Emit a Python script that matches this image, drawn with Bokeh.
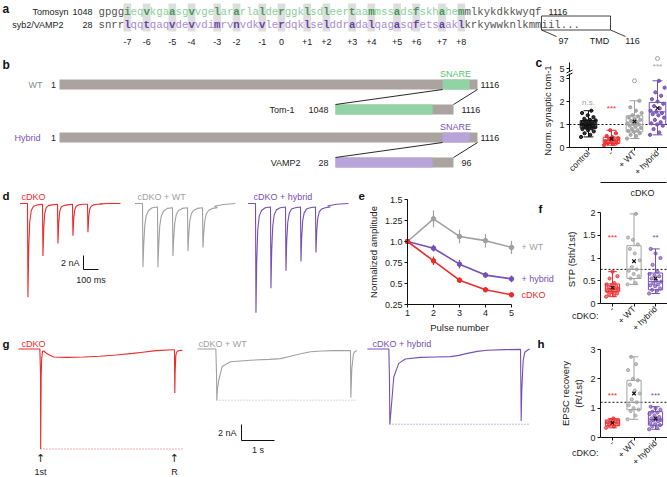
import math
from bokeh.plotting import figure
from bokeh.layouts import column, row
from bokeh.models import Range1d, FixedTicker, LinearAxis, ColumnDataSource
from bokeh.embed import file_html
from bokeh.resources import INLINE
from bokeh.core.properties import value

SANS = "Liberation Sans"
MONO = "Liberation Mono"

# ---------------- data: panel a (sequences) ----------------
TOMO_SEQ = "gpggieqvkgaasgvvgelararlalderggklsdleertaammssadsfskhahemmlkykdkkwyqf"
VAMP_SEQ = "snrrlqqtqaqvdevvdimrvnvdkvlerdqklselddradalqagasqfetsaaklkrkywwknlkmm"
VAMP_TMD_SEQ = "iil..."
TOMO_START, TOMO_END = 1048, 1116
VAMP_START = 28
TMD_START, TMD_END = 97, 116
SNARE_IDX = (4, 56)
LAYER_IDX = [4, 7, 11, 14, 18, 21, 25, 28, 32, 35, 39, 42, 46, 49, 53, 56]
LAYER_LABELS = ["-7", "-6", "-5", "-4", "-3", "-2", "-1", "0",
                "+1", "+2", "+3", "+4", "+5", "+6", "+7", "+8"]

# ---------------- data: panel b (constructs, residue numbers) ----------------
FULL_LEN = 1116
WT_SNARE = (1023, 1095)
TOM1_SPAN = (1048, 1116)
TOM1_SNARE_END = 1104
VAMP2_SPAN = (28, 96)
VAMP2_SNARE_END = 84

# ---------------- data: panel c ----------------
C_CATS = ["control", "-", "+ WT", "+ hybrid"]
C_Q1 = [0.85, 0.18, 0.68, 1.00]
C_MED = [1.00, 0.30, 1.00, 1.55]
C_Q3 = [1.17, 0.45, 1.38, 1.96]
C_LO = [0.46, 0.10, 0.39, 0.55]
C_HI = [1.60, 0.75, 2.03, 2.90]
C_MEAN = [1.00, 0.38, 1.13, 1.71]
C_PTS = [
    [0.46, 0.55, 0.62, 0.70, 0.75, 0.80, 0.83, 0.86, 0.88, 0.90, 0.92, 0.95, 0.97, 1.00,
     1.00, 1.02, 1.05, 1.07, 1.10, 1.12, 1.15, 1.18, 1.20, 1.25, 1.32, 1.40, 1.50, 1.60],
    [0.10, 0.15, 0.18, 0.20, 0.25, 0.28, 0.32, 0.35, 0.40, 0.45, 0.50, 0.62, 0.75],
    [0.39, 0.50, 0.55, 0.62, 0.68, 0.72, 0.75, 0.80, 0.85, 0.90, 0.95, 1.00, 1.02, 1.05,
     1.10, 1.15, 1.20, 1.25, 1.30, 1.35, 1.40, 1.50, 1.60, 1.75, 2.03],
    [0.55, 0.65, 0.80, 0.95, 1.00, 1.05, 1.10, 1.20, 1.30, 1.40, 1.45, 1.50, 1.55, 1.60,
     1.70, 1.80, 1.90, 2.00, 2.10, 2.25, 2.40, 2.60, 2.90],
]
C_OUT_LOW = (3, 2.9)      # (category, value) open circle on lower scale
C_OUT_HIGH = (4, 6.0)     # open circle on the upper (broken) scale
C_STARS = ["n.s.", "***", "", "***"]
C_STAR_Y = [1.96, 1.70, None, 5.2]

# ---------------- data: panel e ----------------
PULSE = [1, 2, 3, 4, 5]
E_WT = [1.00, 1.27, 1.06, 1.01, 0.93]
E_WT_ERR = [0.0, 0.10, 0.08, 0.08, 0.08]
E_HYB = [1.00, 0.92, 0.73, 0.60, 0.555]
E_HYB_ERR = [0.0, 0.04, 0.05, 0.035, 0.04]
E_KO = [1.00, 0.77, 0.54, 0.425, 0.365]
E_KO_ERR = [0.0, 0.05, 0.03, 0.025, 0.01]

# ---------------- data: panel f ----------------
F_CATS = ["-", "+ WT", "+ hybrid"]
F_Q1 = [0.26, 0.55, 0.30]
F_MED = [0.32, 0.75, 0.48]
F_Q3 = [0.43, 1.27, 0.67]
F_LO = [0.15, 0.42, 0.22]
F_HI = [0.70, 1.97, 1.20]
F_MEAN = [0.35, 0.93, 0.55]
F_PTS = [
    [0.15, 0.18, 0.20, 0.22, 0.25, 0.27, 0.28, 0.30, 0.32, 0.34, 0.36, 0.38, 0.40, 0.42,
     0.45, 0.55, 0.60, 0.70],
    [0.42, 0.45, 0.55, 0.60, 0.65, 0.72, 0.75, 0.80, 0.95, 1.10, 1.20, 1.30, 1.40, 1.45, 1.97],
    [0.22, 0.28, 0.30, 0.33, 0.38, 0.40, 0.42, 0.45, 0.48, 0.50, 0.55, 0.60, 0.62, 0.65,
     0.70, 0.85, 1.00, 1.10, 1.20],
]
F_STARS = ["***", "", "**"]
F_STAR_Y = 1.45
F_REF = 0.75

# ---------------- data: panel h ----------------
H_Q1 = [0.40, 0.95, 0.42]
H_MED = [0.50, 1.20, 0.60]
H_Q3 = [0.60, 1.95, 0.88]
H_LO = [0.33, 0.62, 0.28]
H_HI = [0.65, 2.75, 1.05]
H_MEAN = [0.50, 1.50, 0.65]
H_PTS = [
    [0.33, 0.38, 0.42, 0.45, 0.50, 0.52, 0.55, 0.58, 0.60, 0.65],
    [0.62, 0.75, 0.90, 0.95, 1.00, 1.10, 1.20, 1.30, 1.50, 1.60, 1.80, 1.95, 2.00, 2.30,
     2.50, 2.75],
    [0.28, 0.32, 0.38, 0.42, 0.45, 0.50, 0.55, 0.58, 0.60, 0.62, 0.65, 0.70, 0.75, 0.80,
     0.85, 0.88, 0.95, 1.00, 1.05],
]
H_STARS = ["***", "", "***"]
H_STAR_Y = 1.43
H_REF = 1.2

# ---------------- data: panel d (10 Hz trains, ms / nA) ----------------
D_STIM = [0, 100, 200, 300, 400]
D_T = [0, 3, 8, 15, 25, 40, 65, 99]
D_PRE_T = -50
D_TAIL_T = [480, 540, 620]
D_RED = [[0.0, -13.4, -6.5, -2.6, -1.0, -0.4, -0.2, -0.1],
         [-0.1, -7.5, -3.6, -1.4, -0.6, -0.3, -0.2, -0.1],
         [-0.1, -5.7, -2.8, -1.1, -0.5, -0.3, -0.2, -0.1],
         [-0.1, -4.6, -2.2, -0.9, -0.4, -0.2, -0.1, -0.1],
         [-0.1, -4.1, -2.0, -0.8, -0.4, -0.2, -0.1, -0.1]]
D_RED_TAIL = [-0.05, 0.0, 0.0]
D_GRAY = [[0.0, -9.1, -6.0, -3.2, -1.7, -1.0, -0.6, -0.5],
          [-0.5, -9.1, -6.0, -3.2, -1.8, -1.1, -0.7, -0.6],
          [-0.6, -7.5, -5.0, -2.8, -1.6, -1.0, -0.7, -0.6],
          [-0.6, -6.8, -4.6, -2.6, -1.5, -1.0, -0.7, -0.6],
          [-0.6, -6.3, -4.3, -2.5, -1.5, -1.0, -0.7, -0.6]]
D_GRAY_TAIL = [-0.4, -0.15, 0.0]
D_PUR = [[0.0, -15.6, -8.5, -3.8, -1.8, -1.0, -0.6, -0.5],
         [-0.5, -12.1, -6.8, -3.2, -1.6, -0.9, -0.6, -0.5],
         [-0.5, -9.6, -5.5, -2.7, -1.4, -0.8, -0.6, -0.5],
         [-0.5, -8.3, -4.8, -2.4, -1.3, -0.8, -0.6, -0.5],
         [-0.5, -7.0, -4.1, -2.1, -1.2, -0.8, -0.6, -0.5]]
D_PUR_TAIL = [-0.35, -0.1, 0.0]

# ---------------- data: panel g (recovery, s / nA) ----------------
G_RED_T = [-0.67, -0.02, 0.0, 0.005, 0.012, 0.02, 0.035, 0.06, 0.1, 0.2, 0.4, 0.8, 1.3,
           1.8, 2.3, 2.8, 3.1, 3.5, 4.0, 4.06, 4.07, 4.08, 4.1, 4.14, 4.2, 4.3]
G_RED_I = [0.0, 0.0, -3.0, -12.5, -8.0, -3.5, -1.2, -0.3, -0.25, -0.6, -1.0, -1.05, -1.0,
           -0.9, -0.75, -0.55, -0.4, -0.2, -0.1, -0.1, -5.5, -3.0, -0.8, -0.3, -0.2, -0.15]
G_GRAY_T = [-0.58, -0.02, 0.0, 0.01, 0.03, 0.07, 0.17, 0.42, 1.03, 1.6, 1.94, 2.24, 2.55,
            2.85, 3.2, 3.55, 4.05, 4.06, 4.07, 4.1, 4.15, 4.2, 4.25]
G_GRAY_I = [0.0, 0.0, -3.0, -6.4, -5.0, -3.9, -2.2, -1.6, -1.4, -1.3, -1.2, -0.9, -0.6,
            -0.35, -0.25, -0.2, -0.2, -0.2, -6.1, -2.5, -0.6, -0.3, -0.2]
G_PUR_T = [-0.67, -0.02, 0.0, 0.01, 0.04, 0.08, 0.13, 0.28, 0.48, 0.94, 1.4, 1.85, 2.1,
           2.36, 2.66, 2.96, 3.5, 3.97, 3.98, 3.99, 4.01, 4.05, 4.1, 4.2, 4.25]
G_PUR_I = [0.0, 0.0, -4.0, -9.4, -8.0, -6.0, -3.5, -1.8, -1.25, -1.05, -1.0, -0.95, -0.8,
           -0.55, -0.3, -0.15, -0.08, -0.05, -4.0, -9.0, -5.0, -1.5, -0.4, -0.1, 0.0]
G_R_TIME = 4.06

# ---------------- styling ----------------
RED = "#ee2a2a"
GRAY = "#a0a0a0"
PURPLE = "#7650b5"
BLACK = "#111111"
DARKTXT = "#222222"
BAR_GRAY = "#aaa3a0"
SNARE_GREEN = "#92d3a5"
SNARE_PURPLE = "#b8a3da"
GREEN_TXT = "#5dbf78"
PURPLE_TXT = "#7a52b8"
GREEN_LIGHT = "#8ccf9b"
GREEN_DARK = "#3e9b56"
PURPLE_LIGHT = "#a68cd2"
PURPLE_DARK = "#6a3ea8"
SEQ_GRAY = "#555555"
HL_GRAY = "#dddddd"


def lin(v1, p1, v2, p2):
    k = (v2 - v1) / (p2 - p1)
    return lambda px: v1 + (px - p1) * k


def xr_from(left, right, f):
    return Range1d(start=f(left), end=f(right))


def yr_from(top, bottom, f):
    return Range1d(start=f(bottom), end=f(top))


def blank(w, h, xr, yr):
    p = figure(width=w, height=h, x_range=xr, y_range=yr, x_axis_location=None,
               y_axis_location=None, output_backend="svg", toolbar_location=None,
               min_border_left=0, min_border_right=0, min_border_top=0, min_border_bottom=0)
    p.grid.visible = False
    p.outline_line_color = None
    return p


def style_axis(ax, size="9px"):
    ax.axis_line_width = 1
    ax.axis_line_color = BLACK
    ax.major_tick_line_color = BLACK
    ax.major_tick_out = 3
    ax.major_tick_in = 0
    ax.minor_tick_line_color = None
    ax.major_label_text_font = SANS
    ax.major_label_text_font_size = size
    ax.major_label_text_color = DARKTXT
    ax.major_label_standoff = 2
    ax.axis_label_text_font = SANS
    ax.axis_label_text_font_size = "9.5px"
    ax.axis_label_text_font_style = "normal"
    ax.axis_label_text_color = DARKTXT
    ax.axis_label_standoff = 3


def add_axis(p, side, loc, bounds, ticks, labels=None, title=None, rot=None,
             range_name=None, size="9px"):
    kw = {}
    if range_name:
        kw["y_range_name"] = range_name
    ax = LinearAxis(fixed_location=loc, bounds=bounds, ticker=FixedTicker(ticks=ticks), **kw)
    style_axis(ax, size)
    if labels:
        ax.major_label_overrides = labels
    if title:
        ax.axis_label = title
    if rot is not None:
        ax.major_label_orientation = rot
        ax.major_label_standoff = 1
    p.add_layout(ax, side)
    return ax


def txt(p, x, y, s, color=DARKTXT, size="9px", align="left", bold=False, font=SANS,
        angle=0.0, range_name=None, yrange_name=None):
    kw = {}
    if range_name:
        kw["x_range_name"] = range_name
    if yrange_name:
        kw["y_range_name"] = yrange_name
    p.text(x=[x], y=[y], text=[s], text_color=color, text_font=value(font),
           text_font_size=size, text_align=align, text_baseline="middle",
           text_font_style="bold" if bold else "normal", angle=angle, **kw)


def jit(n, width):
    return [((i * 0.6180339887) % 1.0 - 0.5) * width for i in range(n)]


def boxplot(p, xs, q1, med, q3, lo, hi, mean, colors, hw, pts, pt_alpha, pt_size):
    for x, a, m, b, l, h, mu, c, vals in zip(xs, q1, med, q3, lo, hi, mean, colors, pts):
        js = jit(len(vals), hw * 1.8)
        p.scatter(x=[x + j for j in js], y=vals, size=pt_size, fill_color=c, line_color=c,
                  fill_alpha=pt_alpha, line_alpha=min(1.0, pt_alpha + 0.2))
        p.quad(left=[x - hw], right=[x + hw], bottom=[a], top=[b], fill_color=None,
               line_color=c, line_width=1)
        p.segment(x0=[x - hw], y0=[m], x1=[x + hw], y1=[m], line_color=c, line_width=1)
        p.segment(x0=[x, x], y0=[b, l], x1=[x, x], y1=[h, a], line_color=c, line_width=1)
        p.segment(x0=[x - hw * 0.6, x - hw * 0.6], y0=[h, l], x1=[x + hw * 0.6, x + hw * 0.6],
                  y1=[h, l], line_color=c, line_width=1)
        p.scatter(x=[x], y=[mu], marker="x", size=5, line_color=BLACK, line_width=1.2)


# ============ panel a  (page x 0..667, y 0..52) ============
CW = 6.42
SEQ_X0 = 98
fa = lin(0, SEQ_X0, 1, SEQ_X0 + CW)
pa = blank(667, 52, xr_from(0, 667, fa), Range1d(52, 0))
pa.quad(left=[i + 0.5 - 0.6 for i in LAYER_IDX], right=[i + 0.5 + 0.6 for i in LAYER_IDX],
        bottom=[31] * len(LAYER_IDX), top=[3] * len(LAYER_IDX), fill_color=HL_GRAY,
        line_color=None)


def seq_sources(seq, y, light, dark, start_idx=0, plain=False):
    norm = dict(x=[], y=[], t=[], c=[])
    bold = dict(x=[], y=[], t=[], c=[])
    for k, ch in enumerate(seq):
        i = start_idx + k
        if not plain and i in LAYER_IDX:
            d, col = bold, dark
        elif not plain and SNARE_IDX[0] <= i <= SNARE_IDX[1]:
            d, col = norm, light
        else:
            d, col = norm, SEQ_GRAY
        d["x"].append(i + 0.5)
        d["y"].append(y)
        d["t"].append(ch)
        d["c"].append(col)
    return norm, bold


for seq, y, light, dark, st, plain in [(TOMO_SEQ, 11, GREEN_LIGHT, GREEN_DARK, 0, False),
                                        (VAMP_SEQ, 24, PURPLE_LIGHT, PURPLE_DARK, 0, False),
                                        (VAMP_TMD_SEQ, 24, None, None, len(VAMP_SEQ), True)]:
    n, b = seq_sources(seq, y, light, dark, st, plain)
    for d, style in [(n, "normal"), (b, "bold")]:
        if d["x"]:
            pa.text(x="x", y="y", text="t", text_color="c", source=ColumnDataSource(d),
                    text_font=value(MONO), text_font_size="10.7px", text_align="center",
                    text_baseline="middle", text_font_style=style)

pa.text(x=[i + 0.5 for i in LAYER_IDX], y=[41] * len(LAYER_IDX), text=LAYER_LABELS,
        text_font=value(SANS), text_font_size="9px", text_align="center",
        text_baseline="middle", text_color=DARKTXT)
txt(pa, fa(2), 8, "a", BLACK, "12px", bold=True)
txt(pa, fa(68), 11, "Tomosyn", DARKTXT, "9px", "right")
txt(pa, fa(92), 11, str(TOMO_START), DARKTXT, "9px", "right")
txt(pa, fa(63), 24, "syb2/VAMP2", DARKTXT, "9px", "right")
txt(pa, fa(92), 24, str(VAMP_START), DARKTXT, "9px", "right")
txt(pa, len(TOMO_SEQ) + 1.1, 11, str(TOMO_END), DARKTXT, "9px", "left")
tmd_l, tmd_r = len(VAMP_SEQ), fa(610)
pa.quad(left=[tmd_l], right=[tmd_r], top=[15.5], bottom=[29.5], fill_color=None,
        line_color=BLACK, line_width=0.8)
pa.segment(x0=[tmd_l, tmd_r], y0=[29.5, 29.5], x1=[fa(556), fa(625)], y1=[36, 36],
           line_color=BLACK, line_width=0.8)
txt(pa, fa(563), 40, str(TMD_START), DARKTXT, "9px", "center")
txt(pa, fa(599), 40, "TMD", DARKTXT, "9px", "center")
txt(pa, fa(632), 40, str(TMD_END), DARKTXT, "9px", "center")

# ============ panel b  (page x 0..520, y 52..188) ============
fb_main = lin(1, 59, FULL_LEN, 477)
fb_tom = lin(TOM1_SPAN[0], 335, TOM1_SPAN[1], 453)
fb_vamp = lin(VAMP2_SPAN[0], 335, VAMP2_SPAN[1], 453)
pb = blank(520, 136, xr_from(0, 520, fb_main), Range1d(188, 52))
pb.extra_x_ranges = {"tom": xr_from(0, 520, fb_tom), "vamp": xr_from(0, 520, fb_vamp),
                     "px": Range1d(0, 520)}


def to_px(v, rng):
    return (v - rng.start) / (rng.end - rng.start) * 520


ROW_WT, ROW_TOM, ROW_HYB, ROW_VAMP = (79, 89), (104, 114), (132, 142), (157, 167)
for (top, bot), snare_col in [(ROW_WT, SNARE_GREEN), (ROW_HYB, SNARE_PURPLE)]:
    pb.quad(left=[1], right=[FULL_LEN], top=[top], bottom=[bot], fill_color=BAR_GRAY,
            line_color=None)
    pb.quad(left=[WT_SNARE[0]], right=[WT_SNARE[1]], top=[top], bottom=[bot],
            fill_color=snare_col, line_color=None)
for (top, bot), name, span, send, col in [(ROW_TOM, "tom", TOM1_SPAN, TOM1_SNARE_END, SNARE_GREEN),
                                          (ROW_VAMP, "vamp", VAMP2_SPAN, VAMP2_SNARE_END, SNARE_PURPLE)]:
    pb.quad(left=[span[0]], right=[span[1]], top=[top], bottom=[bot], fill_color=BAR_GRAY,
            line_color=None, x_range_name=name)
    pb.quad(left=[span[0]], right=[send], top=[top], bottom=[bot], fill_color=col,
            line_color=None, x_range_name=name)
    main_bot = ROW_WT[1] if name == "tom" else ROW_HYB[1]
    zr = pb.extra_x_ranges[name]
    pb.segment(x0=[to_px(WT_SNARE[0], pb.x_range), to_px(FULL_LEN, pb.x_range)],
               y0=[main_bot, main_bot],
               x1=[to_px(span[0], zr), to_px(span[1], zr)], y1=[top, top],
               line_color=BLACK, line_width=0.9, x_range_name="px")

txt(pb, 2, 64, "b", BLACK, "12px", bold=True, range_name="px")
txt(pb, 42, 84, "WT", "#8c8c8c", "9px", "right", range_name="px")
txt(pb, 53, 84, "1", DARKTXT, "9px", "center", range_name="px")
txt(pb, 480, 84, str(FULL_LEN), DARKTXT, "9px", "left", range_name="px")
txt(pb, 455, 73, "SNARE", GREEN_TXT, "9px", "center", range_name="px")
txt(pb, 294, 109, "Tom-1", DARKTXT, "9px", "right", range_name="px")
txt(pb, 328, 109, str(TOM1_SPAN[0]), DARKTXT, "9px", "right", range_name="px")
txt(pb, 461, 109, str(TOM1_SPAN[1]), DARKTXT, "9px", "left", range_name="px")
txt(pb, 40, 137, "Hybrid", PURPLE_TXT, "9px", "right", range_name="px")
txt(pb, 53, 137, "1", DARKTXT, "9px", "center", range_name="px")
txt(pb, 480, 137, str(FULL_LEN), DARKTXT, "9px", "left", range_name="px")
txt(pb, 455, 126, "SNARE", PURPLE_TXT, "9px", "center", range_name="px")
txt(pb, 300, 162, "VAMP2", DARKTXT, "9px", "right", range_name="px")
txt(pb, 328, 162, str(VAMP2_SPAN[0]), DARKTXT, "9px", "right", range_name="px")
txt(pb, 461, 162, str(VAMP2_SPAN[1]), DARKTXT, "9px", "left", range_name="px")

# ============ panel c  (page x 520..667, y 52..188) ============
fcx = lin(1, 588, 2, 611)
fcy = lin(0, 147, 1, 124)
fcy_top = lin(5, 68, 6, 58)
pc = blank(147, 136, xr_from(520, 667, fcx), yr_from(52, 188, fcy))
pc.extra_y_ranges = {"top": yr_from(52, 188, fcy_top)}
c_axx = fcx(569)
add_axis(pc, "left", c_axx, (0, 3.2), [0, 1, 2, 3], title="Norm. synaptic tom-1")
add_axis(pc, "left", c_axx, (4.7, 5.6), [5], range_name="top")
add_axis(pc, "below", 0, (c_axx, fcx(667)), [1, 2, 3, 4],
         labels={i + 1: c for i, c in enumerate(C_CATS)}, rot=math.pi / 4, size="8.5px")
# axis break marks
pc.segment(x0=[fcx(566), fcx(566)], y0=[fcy(75.5), fcy(72.5)], x1=[fcx(572), fcx(572)],
           y1=[fcy(72.5), fcy(69.5)], line_color=BLACK, line_width=1)
pc.segment(x0=[c_axx], y0=[1], x1=[fcx(667)], y1=[1], line_color=BLACK,
           line_dash="2 2", line_width=1)
boxplot(pc, [1, 2, 3, 4], C_Q1, C_MED, C_Q3, C_LO, C_HI, C_MEAN, [BLACK, RED, GRAY, PURPLE],
        0.36, C_PTS, 0.85, 3.2)
pc.scatter(x=[C_OUT_LOW[0]], y=[C_OUT_LOW[1]], size=4, fill_color=None, line_color=GRAY)
pc.scatter(x=[C_OUT_HIGH[0]], y=[C_OUT_HIGH[1]], size=4, fill_color=None, line_color=GRAY,
           y_range_name="top")
for i, (s, yv) in enumerate(zip(C_STARS, C_STAR_Y)):
    if not s:
        continue
    col = GRAY if i != 1 else RED
    if yv > 4:
        txt(pc, i + 1, yv, s, col, "8px", "center", yrange_name="top")
    else:
        txt(pc, i + 1, yv, s, col, "8px", "center")
txt(pc, fcx(535), fcy(62), "c", BLACK, "12px", bold=True)
pc.segment(x0=[fcx(600)], y0=[fcy(182)], x1=[fcx(666)], y1=[fcy(182)], line_color=BLACK,
           line_width=1)

# ============ panel d  (page x 0..366, y 188..336) ============
fdx = lin(0, 27, 100, 42)
fdy = lin(0, 203, -2, 217)
pd = blank(366, 148, xr_from(0, 366, fdx), yr_from(188, 336, fdy))
OFF_GRAY = fdx(142) - fdx(27)
OFF_PUR = fdx(255) - fdx(27)


def d_trace(pulses, tail, offset):
    t, v = [offset + D_PRE_T], [0.0]
    for s, vals in zip(D_STIM, pulses):
        for dt, val in zip(D_T, vals):
            t.append(offset + s + dt)
            v.append(val)
    for tt, val in zip(D_TAIL_T, tail):
        t.append(offset + tt)
        v.append(val)
    return t, v


for pulses, tail, off, col in [(D_RED, D_RED_TAIL, 0.0, RED), (D_GRAY, D_GRAY_TAIL, OFF_GRAY, GRAY),
                               (D_PUR, D_PUR_TAIL, OFF_PUR, PURPLE)]:
    t, v = d_trace(pulses, tail, off)
    pd.line(t, v, line_color=col, line_width=1.1)

sb_x, sb_y = fdx(83), fdy(269)
pd.line([sb_x, sb_x, sb_x + 100], [sb_y + 2, sb_y, sb_y], line_color=BLACK, line_width=1)
txt(pd, fdx(79), sb_y + 1, "2 nA", DARKTXT, "9px", "right")
txt(pd, sb_x + 50, fdy(279), "100 ms", DARKTXT, "9px", "center")
txt(pd, fdx(2), fdy(195), "d", BLACK, "11.5px", bold=True)
txt(pd, fdx(358), fdy(195), "e", BLACK, "11.5px", bold=True)
txt(pd, fdx(21), fdy(196), "cDKO", RED, "9px")
txt(pd, fdx(137), fdy(196), "cDKO + WT", GRAY, "9px")
txt(pd, fdx(253), fdy(196), "cDKO + hybrid", PURPLE, "9px")

# ============ panel e  (page x 366..565, y 188..336) ============
fex = lin(1, 407, 5, 511)
fey = lin(0.25, 304, 1.25, 220)
pe = blank(199, 148, xr_from(366, 565, fex), yr_from(188, 336, fey))
add_axis(pe, "left", 1, (0.25, 1.5), [0.25, 0.5, 0.75, 1.0, 1.25, 1.5],
         labels={0.25: "0.25", 0.5: "0.5", 0.75: "0.75", 1.0: "1.0", 1.25: "1.25", 1.5: "1.5"},
         title="Normalized amplitude")
add_axis(pe, "below", 0.25, (1, 5), PULSE, title="Pulse number")
for ys, es, col, name in [(E_WT, E_WT_ERR, GRAY, "+ WT"), (E_HYB, E_HYB_ERR, PURPLE, "+ hybrid"),
                          (E_KO, E_KO_ERR, RED, "cDKO")]:
    pe.segment(x0=PULSE, y0=[y - e for y, e in zip(ys, es)], x1=PULSE,
               y1=[y + e for y, e in zip(ys, es)], line_color=col, line_width=1.2)
    pe.line(PULSE, ys, line_color=col, line_width=1.6)
    pe.scatter(PULSE, ys, size=4.5, fill_color=col, line_color=col)
    txt(pe, 5.38, ys[-1], name, col, "9px")
txt(pe, fex(538), fey(208), "f", BLACK, "11.5px", bold=True)

# ============ panel f  (page x 565..667, y 188..336) ============
ffx = lin(1, 612, 2, 633.5)
ffy = lin(0, 303, 1, 257.5)
pf = blank(102, 148, xr_from(565, 667, ffx), yr_from(188, 336, ffy))
f_axx = ffx(600)
add_axis(pf, "left", f_axx, (0, 2), [0, 0.5, 1, 1.5, 2],
         labels={0: "0", 0.5: "0.5", 1: "1", 1.5: "1.5", 2: "2"}, title="STP  (5th/1st)")
add_axis(pf, "below", 0, (f_axx, ffx(667)), [1, 2, 3],
         labels={i + 1: c for i, c in enumerate(F_CATS)}, rot=math.pi / 4, size="8.5px")
pf.segment(x0=[f_axx], y0=[F_REF], x1=[ffx(667)], y1=[F_REF], line_color=BLACK,
           line_dash="2 2", line_width=1)
boxplot(pf, [1, 2, 3], F_Q1, F_MED, F_Q3, F_LO, F_HI, F_MEAN, [RED, GRAY, PURPLE], 0.33,
        F_PTS, 0.6, 3.2)
for i, s in enumerate(F_STARS):
    if s:
        txt(pf, i + 1, F_STAR_Y, s, [RED, GRAY, PURPLE][i], "8px", "center")
txt(pf, ffx(598), ffy(315), "cDKO:", DARKTXT, "9px", "right")
txt(pf, ffx(642), ffy(192), "cDKO", DARKTXT, "9px", "center")

# ============ panel g  (page x 0..530, y 336..477) ============
fgx = lin(0, 40, 1, 73)
fgy = lin(0, 348.5, -1, 356.5)
pg = blank(530, 141, xr_from(0, 530, fgx), yr_from(336, 477, fgy))
OFFG_GRAY = fgx(216)
OFFG_PUR = fgx(389)
for ts, vs, off, col in [(G_RED_T, G_RED_I, 0.0, RED), (G_GRAY_T, G_GRAY_I, OFFG_GRAY, GRAY),
                         (G_PUR_T, G_PUR_I, OFFG_PUR, PURPLE)]:
    pg.line([t + off for t in ts], vs, line_color=col, line_width=1.1)
    pk = min(vs)
    pg.segment(x0=[off], y0=[pk], x1=[off + max(ts)], y1=[pk], line_color=col,
               line_dash="1 2", line_width=0.8)
gx, gy = fgx(241), fgy(440)
pg.line([gx, gx, gx + 1], [gy + 2, gy, gy], line_color=BLACK, line_width=1)
txt(pg, fgx(236), gy + 1, "2 nA", DARKTXT, "9px", "right")
txt(pg, gx + 0.5, fgy(449), "1 s", DARKTXT, "9px", "center")
txt(pg, fgx(2), fgy(343), "g", BLACK, "11.5px", bold=True)
txt(pg, fgx(21), fgy(343), "cDKO", RED, "9px")
txt(pg, fgx(198), fgy(343), "cDKO + WT", GRAY, "9px")
txt(pg, fgx(372), fgy(343), "cDKO + hybrid", PURPLE, "9px")
for xx, s in [(0.0, "1st"), (G_R_TIME, "R")]:
    txt(pg, xx, fgy(458), "\u2191", DARKTXT, "11px", "center", font="DejaVu Sans")
    txt(pg, xx, fgy(471), s, DARKTXT, "9px", "center")

# ============ panel h  (page x 530..667, y 336..477) ============
fhx = lin(1, 612, 2, 633.5)
fhy = lin(0, 437, 3, 349)
ph = blank(137, 141, xr_from(530, 667, fhx), yr_from(336, 477, fhy))
h_axx = fhx(600)
add_axis(ph, "left", h_axx, (0, 3), [0, 1, 2, 3], title="EPSC recovery\n(R/1st)")
add_axis(ph, "below", 0, (h_axx, fhx(667)), [1, 2, 3],
         labels={i + 1: c for i, c in enumerate(F_CATS)}, rot=math.pi / 4, size="8.5px")
ph.segment(x0=[h_axx], y0=[H_REF], x1=[fhx(667)], y1=[H_REF], line_color=BLACK,
           line_dash="2 2", line_width=1)
boxplot(ph, [1, 2, 3], H_Q1, H_MED, H_Q3, H_LO, H_HI, H_MEAN, [RED, GRAY, PURPLE], 0.33,
        H_PTS, 0.6, 3.2)
for i, s in enumerate(H_STARS):
    if s:
        txt(ph, i + 1, H_STAR_Y, s, [RED, GRAY, PURPLE][i], "8px", "center")
txt(ph, fhx(598), fhy(452), "cDKO:", DARKTXT, "9px", "right")
txt(ph, fhx(537), fhy(343), "h", BLACK, "11.5px", bold=True)

layout = column(pa, row(pb, pc), row(pd, pe, pf), row(pg, ph))
open("out.html", "w").write(file_html(layout, INLINE))
